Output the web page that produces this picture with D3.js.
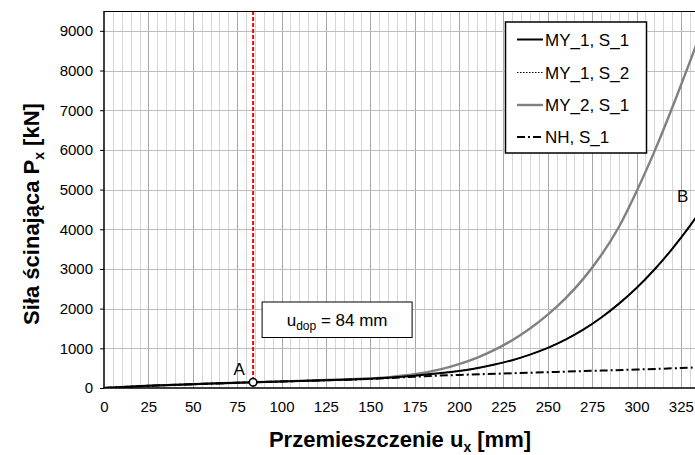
<!DOCTYPE html>
<html>
<head>
<meta charset="utf-8">
<script src="https://cdn.jsdelivr.net/npm/d3@7"></script>
<style>
  html, body { margin: 0; padding: 0; background: #fff; }
  svg { display: block; font-family: "Liberation Sans", Arial, sans-serif; }
</style>
</head>
<body>
<svg id="chart" width="695" height="455"></svg>
<script>
// Displacement u_x [mm] and shear force P_x [kN] for each model
const my1s1X = [0, 25, 50, 75, 100, 125, 150, 175, 190, 200, 210, 220, 230, 240, 250, 260, 270, 280, 290, 300, 310, 320, 330, 335];
const my1s1Y = [0, 55, 95, 133, 165, 197, 235, 310, 375, 430, 500, 590, 700, 840, 1010, 1220, 1470, 1770, 2120, 2520, 2980, 3500, 4080, 4400];

const my1s2X = [0, 25, 50, 75, 100, 125, 150, 175, 190, 200, 210, 220, 230, 240, 250, 260, 270, 280, 290, 300, 310, 320, 330, 335];
const my1s2Y = [0, 55, 95, 133, 165, 197, 235, 310, 375, 430, 500, 590, 700, 840, 1010, 1220, 1470, 1770, 2120, 2520, 2980, 3500, 4080, 4400];

const my2s1X = [0, 25, 50, 75, 100, 125, 150, 160, 175, 190, 200, 210, 220, 230, 240, 250, 260, 270, 280, 290, 300, 310, 320, 330, 335];
const my2s1Y = [0, 55, 95, 133, 166, 200, 242, 272, 345, 475, 600, 760, 960, 1205, 1500, 1850, 2260, 2750, 3340, 4050, 4950, 5950, 7050, 8210, 8820];

const nhs1X = [0, 25, 50, 75, 100, 125, 150, 175, 200, 225, 250, 275, 300, 325, 335];
const nhs1Y = [0, 55, 95, 133, 163, 195, 228, 285, 330, 365, 398, 432, 465, 503, 520];

const seriesNames = ["MY_1, S_1", "MY_1, S_2", "MY_2, S_1", "NH, S_1"];

const xTicks = [0, 25, 50, 75, 100, 125, 150, 175, 200, 225, 250, 275, 300, 325];
const yTicks = [0, 1000, 2000, 3000, 4000, 5000, 6000, 7000, 8000, 9000];

const uDop = 84;          // allowable displacement [mm]
const pointA = [84, 145]; // point A on the curve
const pointB = [326, 4840];

const svg = d3.select("#chart");
const W = 695, H = 455;
const plotLeft = 104, plotBottom = 388, plotTop = 11;

const x = d3.scaleLinear().domain([0, 340]).range([plotLeft, plotLeft + 340 * 1.775]);
const y = d3.scaleLinear().domain([0, 9500]).range([plotBottom, plotTop]);

svg.append("rect").attr("width", W).attr("height", H).attr("fill", "#fff");

svg.append("defs").append("clipPath").attr("id", "plot")
  .append("rect").attr("x", plotLeft).attr("y", plotTop)
  .attr("width", W - plotLeft).attr("height", plotBottom - plotTop);

// grid
const grid = svg.append("g");
const minor = d3.range(5, 341, 5).filter(v => v % 25 !== 0);
grid.selectAll(".vmin").data(minor).join("line")
  .attr("x1", d => Math.round(x(d)) + 0.5).attr("x2", d => Math.round(x(d)) + 0.5)
  .attr("y1", plotTop).attr("y2", plotBottom)
  .attr("stroke", "#d6d6d6").attr("stroke-width", 1);
grid.selectAll(".vmaj").data(d3.range(25, 341, 25)).join("line")
  .attr("x1", d => Math.round(x(d)) + 0.5).attr("x2", d => Math.round(x(d)) + 0.5)
  .attr("y1", plotTop).attr("y2", plotBottom)
  .attr("stroke", "#a8a8a8").attr("stroke-width", 1);
grid.selectAll(".h").data(yTicks.slice(1)).join("line")
  .attr("x1", plotLeft).attr("x2", W)
  .attr("y1", d => Math.round(y(d)) + 0.5).attr("y2", d => Math.round(y(d)) + 0.5)
  .attr("stroke", "#bdbdbd").attr("stroke-width", 1);

// allowable displacement marker
svg.append("line")
  .attr("x1", x(uDop)).attr("x2", x(uDop))
  .attr("y1", plotTop).attr("y2", plotBottom)
  .attr("stroke", "#ff0000").attr("stroke-width", 2)
  .attr("stroke-dasharray", "4,2");

// curves
const line = d3.line().x(d => x(d[0])).y(d => y(d[1])).curve(d3.curveNatural);
const zip = (xs, ys) => xs.map((v, i) => [v, ys[i]]);
const plot = svg.append("g").attr("clip-path", "url(#plot)");

const styles = [
  { data: zip(my2s1X, my2s1Y), stroke: "#808080", width: 2.4, dash: null, legend: 2 },
  { data: zip(my1s1X, my1s1Y), stroke: "#000", width: 2, dash: null, legend: 0 },
  { data: zip(my1s2X, my1s2Y), stroke: "#000", width: 1.2, dash: "1.5,1.5", legend: 1 },
  { data: zip(nhs1X, nhs1Y), stroke: "#000", width: 2, dash: "8,3,2,3", legend: 3 }
];
styles.forEach(s => {
  plot.append("path").datum(s.data)
    .attr("d", line)
    .attr("fill", "none")
    .attr("stroke", s.stroke)
    .attr("stroke-width", s.width)
    .attr("stroke-dasharray", s.dash);
});

// axes frame
svg.append("line").attr("x1", plotLeft).attr("x2", W).attr("y1", plotTop + 0.5).attr("y2", plotTop + 0.5)
  .attr("stroke", "#000").attr("stroke-width", 1);
svg.append("line").attr("x1", plotLeft).attr("x2", plotLeft).attr("y1", plotTop).attr("y2", plotBottom + 0.5)
  .attr("stroke", "#000").attr("stroke-width", 1.5);
svg.append("line").attr("x1", plotLeft - 0.5).attr("x2", W).attr("y1", plotBottom).attr("y2", plotBottom)
  .attr("stroke", "#000").attr("stroke-width", 1.5);

// y axis ticks and labels
const yAxis = svg.append("g").attr("transform", `translate(${plotLeft},0)`)
  .call(d3.axisLeft(y).tickValues(yTicks).tickSize(4).tickPadding(7).tickFormat(d3.format("d")));
yAxis.select(".domain").remove();
yAxis.selectAll("line").attr("stroke", "#000");
yAxis.selectAll("text").attr("font-size", 15).attr("fill", "#000")
  .attr("font-family", "Liberation Sans, Arial, sans-serif");

// x axis labels
const xAxis = svg.append("g").attr("transform", `translate(0,${plotBottom})`)
  .call(d3.axisBottom(x).tickValues(xTicks).tickSize(0).tickPadding(13).tickFormat(d3.format("d")));
xAxis.select(".domain").remove();
xAxis.selectAll("text").attr("font-size", 15).attr("fill", "#000")
  .attr("font-family", "Liberation Sans, Arial, sans-serif");

// axis titles
const xt = svg.append("text").attr("x", 400).attr("y", 447)
  .attr("text-anchor", "middle").attr("font-size", 22).attr("font-weight", "bold");
xt.append("tspan").text("Przemieszczenie u");
xt.append("tspan").text("x").attr("font-size", 14).attr("dy", 5);
xt.append("tspan").text(" [mm]").attr("dy", -5);

const yt = svg.append("text").attr("transform", "translate(39,214) rotate(-90)")
  .attr("text-anchor", "middle").attr("font-size", 22).attr("font-weight", "bold");
yt.append("tspan").text("Siła ścinająca P");
yt.append("tspan").text("x").attr("font-size", 14).attr("dy", 5);
yt.append("tspan").text(" [kN]").attr("dy", -5);

// annotation box
const bx = x(uDop) + 9;
svg.append("rect").attr("x", bx).attr("y", 302).attr("width", 150).attr("height", 35.5)
  .attr("fill", "#fff").attr("stroke", "#000").attr("stroke-width", 1);
const lt = svg.append("text").attr("x", bx + 75).attr("y", 326)
  .attr("text-anchor", "middle").attr("font-size", 17);
lt.append("tspan").text("u");
lt.append("tspan").text("dop").attr("font-size", 12).attr("dy", 4);
lt.append("tspan").text(" = 84 mm").attr("dy", -4);

// point A and label B
svg.append("circle").attr("cx", x(pointA[0])).attr("cy", y(pointA[1])).attr("r", 3.8)
  .attr("fill", "#fff").attr("stroke", "#000").attr("stroke-width", 1.6);
svg.append("text").attr("x", x(pointA[0]) - 14).attr("y", y(pointA[1]) - 7)
  .attr("text-anchor", "middle").attr("font-size", 17).text("A");
svg.append("text").attr("x", x(pointB[0])).attr("y", y(pointB[1]) + 6)
  .attr("text-anchor", "middle").attr("font-size", 17).text("B");

// legend
const lg = svg.append("g");
lg.append("rect").attr("x", 505.5).attr("y", 22).attr("width", 141).attr("height", 131)
  .attr("fill", "#fff").attr("stroke", "#000").attr("stroke-width", 1.5);
const rowY = [39.5, 72.5, 105, 137];
styles.forEach(s => {
  const yy = rowY[s.legend];
  lg.append("line").attr("x1", 517).attr("x2", 543).attr("y1", yy).attr("y2", yy)
    .attr("stroke", s.stroke).attr("stroke-width", s.width).attr("stroke-dasharray", s.dash);
  lg.append("text").attr("x", 545).attr("y", yy + 6).attr("font-size", 17)
    .text(seriesNames[s.legend]);
});
</script>
</body>
</html>
